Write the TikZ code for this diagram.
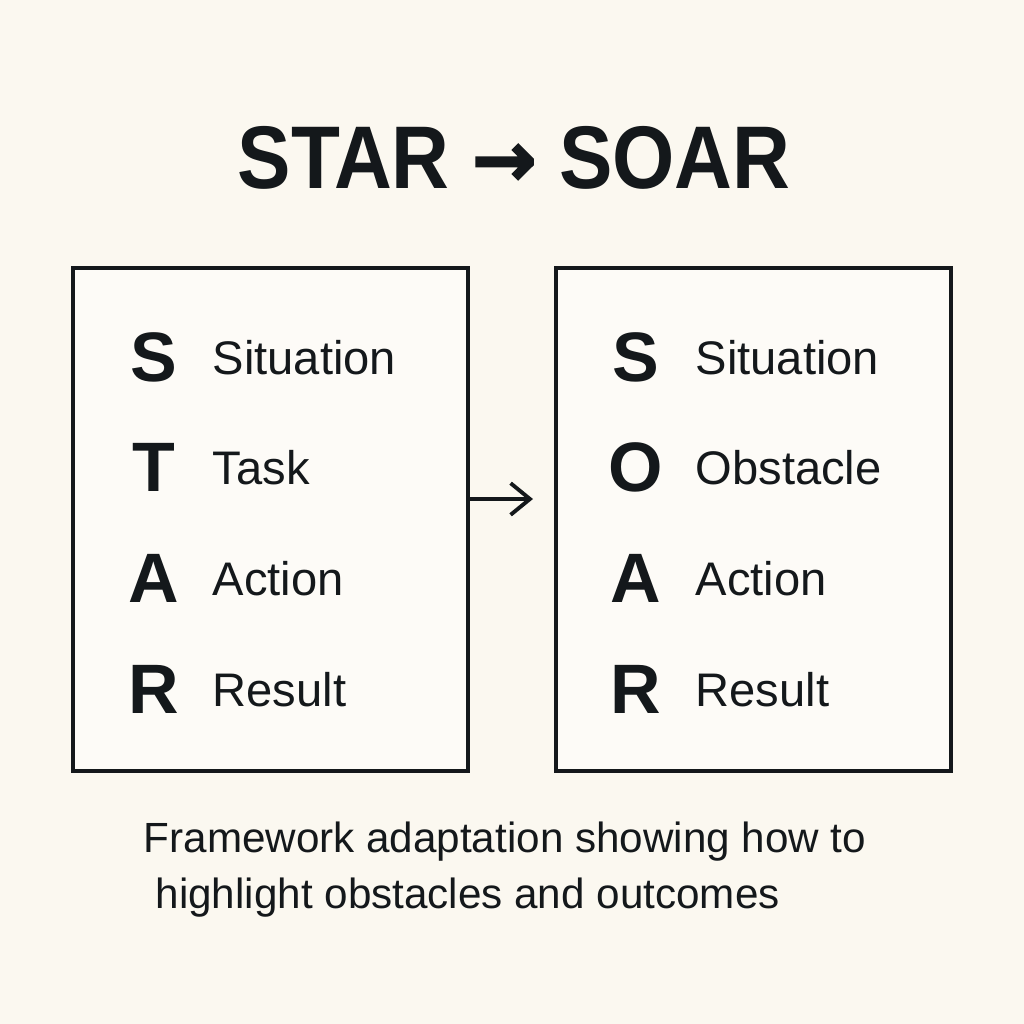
\documentclass[tikz,border=0pt]{standalone}
\usepackage{fontspec}
\setmainfont{Liberation Sans}
\newfontfamily\titlefont[FakeStretch=0.9]{Liberation Sans}
\newfontfamily\arrowfont[FakeBold=2.5]{DejaVu Sans}
\usetikzlibrary{arrows.meta,positioning}
\definecolor{cInk}{HTML}{14181B}
\definecolor{cPaper}{HTML}{FBF8F0}
\definecolor{cCard}{HTML}{FDFBF7}
\tikzset{
  >={Straight Barb[length=5.5pt,width=9pt]},
  panel/.style={draw=cInk, fill=cCard, line width=1pt,
                minimum width=3.95cm, minimum height=5.03cm, inner sep=0},
  initial/.style={font=\fontsize{19.9pt}{20pt}\selectfont\bfseries,
                  text=cInk, anchor=base, inner sep=0},
  word/.style={font=\fontsize{13.4pt}{14pt}\selectfont,
               text=cInk, anchor=base west, inner sep=0},
  arr/.style={->, draw=cInk, line width=1.1pt},
}

\begin{document}
\begin{tikzpicture}[x=0.01cm, y=-0.01cm,
    heading/.style={font=\titlefont\bfseries\fontsize{25.3pt}{26pt}\selectfont,
                    text=cInk, anchor=base, inner sep=0},
    note/.style={font=\fontsize{12pt}{13pt}\selectfont,
                 text=cInk, anchor=base west, inner sep=0}
  ]
  % page
  \fill[cPaper] (0,0) rectangle (1024,1024);
  \useasboundingbox (0,0) rectangle (1024,1024);
  % title
  \node[heading] (title) at (514,188)
    {STAR {\arrowfont\fontsize{22pt}{22pt}\selectfont\raisebox{0.5pt}{→}} SOAR};
  % cards
  \node[panel] (star) at (270.5,519.5) {};
  \node[panel] (soar) at (753.5,519.5) {};
  % rows: initial + word
  \foreach \l/\w [count=\i] in {S/Situation,T/Task,A/Action,R/Result} {
    \node[initial] (starL\i) at (154,270.3+\i*110.7) {\l};
    \node[word] (starW\i) at (212,263.3+\i*110.7) {\w};
  }
  \foreach \l/\w [count=\i] in {S/Situation,O/Obstacle,A/Action,R/Result} {
    \node[initial] (soarL\i) at (636,270.3+\i*110.7) {\l};
    \node[word] (soarW\i) at (695,263.3+\i*110.7) {\w};
  }
  % link between cards
  \coordinate (arrEnd) at (533,499);
  \draw[arr] (star.east |- arrEnd) -- (arrEnd);
  % caption
  \node[note] (cap1) at (143,852) {Framework adaptation showing how to};
  \node[note] (cap2) at (155,908) {highlight obstacles and outcomes};
\end{tikzpicture}
\end{document}
